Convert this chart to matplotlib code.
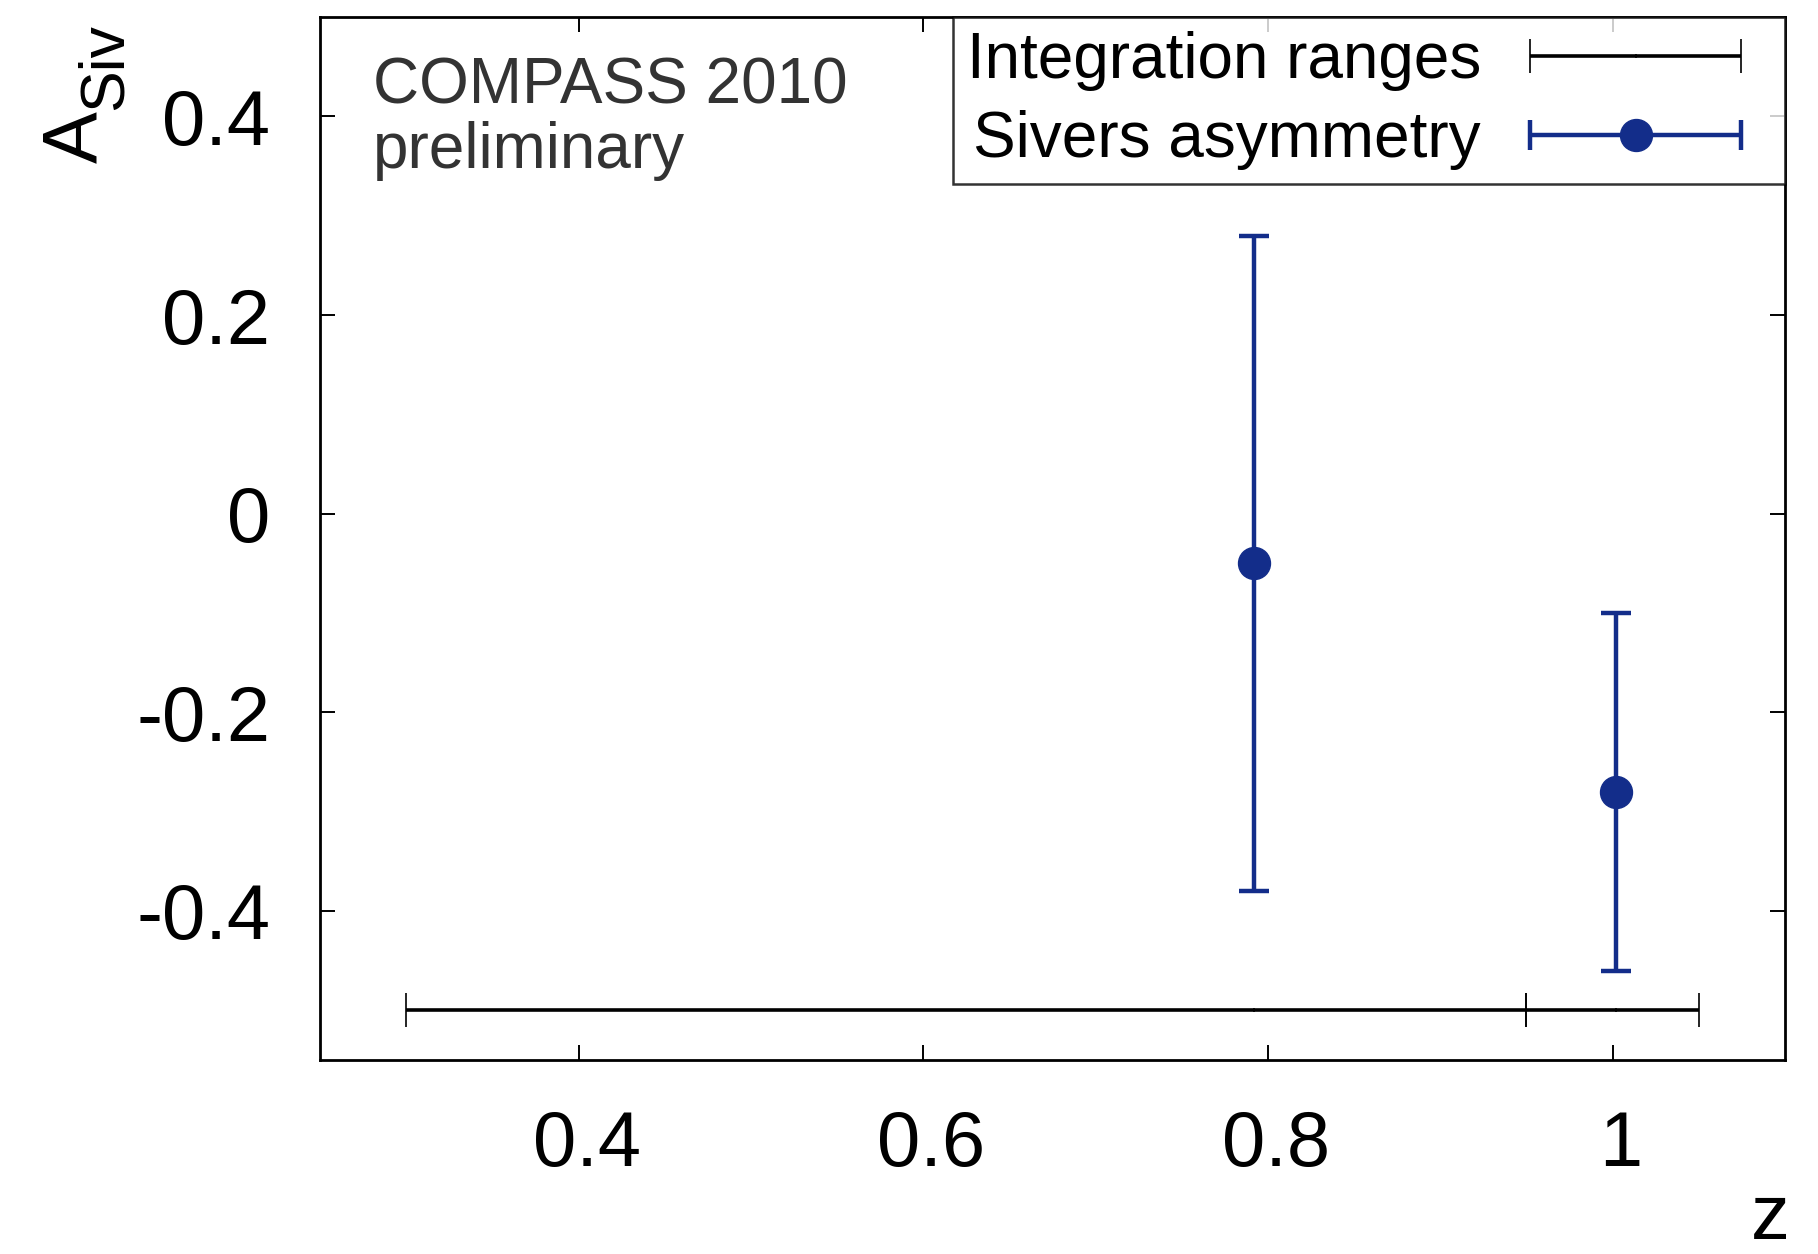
import matplotlib
matplotlib.use("Agg")
import numpy as np
import matplotlib.pyplot as plt
from matplotlib.container import ErrorbarContainer
from matplotlib.legend_handler import HandlerErrorbar
from matplotlib.transforms import ScaledTranslation

# Sivers asymmetry vs z
z_vals = [0.792, 1.002]
asym = [-0.05, -0.28]
asym_err = [0.33, 0.18]

# Integration ranges in z (drawn at A = -0.5)
range_lo = [0.30, 0.95]
range_hi = [0.95, 1.05]
range_level = -0.5

xticks = [0.4, 0.6, 0.8, 1.0]
xtick_labels = ["0.4", "0.6", "0.8", "1"]
yticks = [-0.4, -0.2, 0.0, 0.2, 0.4]
ytick_labels = ["-0.4", "-0.2", "0", "0.2", "0.4"]

BLUE = "#132d8a"
plt.rcParams["font.family"] = ["Liberation Sans", "DejaVu Sans"]

W, H = 1818, 1254
fig = plt.figure(figsize=(W / 100, H / 100), dpi=100)
ax = fig.add_axes([320 / W, 1 - 1060 / H, 1465 / W, 1043 / H])

range_style = dict(fmt="|", color="black", ms=3, mew=1.2, elinewidth=2.6,
                   capsize=12, capthick=2.6)
point_style = dict(fmt="o", color=BLUE, ms=23, mec=BLUE, elinewidth=3.2,
                   capsize=11, capthick=3.2)

# integration ranges as horizontal error bars
xerr_lo = [c - lo for c, lo in zip(z_vals, range_lo)]
xerr_hi = [hi - c for c, hi in zip(z_vals, range_hi)]
ax.errorbar(z_vals, [range_level] * len(z_vals), xerr=[xerr_lo, xerr_hi],
            **range_style)

# asymmetry points
ax.errorbar(z_vals, asym, yerr=asym_err, **point_style)

# legend keys: horizontal bars for both entries
key_ranges = ax.errorbar([np.nan], [np.nan], xerr=[1.0], **range_style)
key_points = ax.errorbar([np.nan], [np.nan], xerr=[1.0], **point_style)

ax.set_xlim(0.25, 1.1)
ax.set_ylim(-0.55, 0.5)
ax.set_xticks(xticks)
ax.set_xticklabels(xtick_labels)
ax.set_yticks(yticks)
ax.set_yticklabels(ytick_labels)

for s in ax.spines.values():
    s.set_linewidth(2.0)
ax.tick_params(axis="both", which="major", direction="in", length=11,
               width=1.4, top=True, right=True, labelsize=56)
ax.tick_params(axis="y", pad=36)
ax.tick_params(axis="x", pad=35)
shift = ScaledTranslation(8 / 100, 0, fig.dpi_scale_trans)
for lab in ax.get_xticklabels():
    lab.set_transform(lab.get_transform() + shift)

# axis titles
fig.text(97 / W, 1 - 163 / H, "A", fontsize=56, rotation=90,
         rotation_mode="anchor", ha="left", va="baseline")
fig.text(122 / W, 1 - 110 / H, "Siv", fontsize=45, rotation=90,
         rotation_mode="anchor", ha="left", va="baseline")
fig.text(1790 / W, 1 - 1239 / H, "z", fontsize=56, ha="right", va="baseline")

# experiment tag
ax.text(0.036, 0.9166, "COMPASS 2010", transform=ax.transAxes,
        fontsize=46, color="#333333", ha="left", va="baseline")
ax.text(0.036, 0.855, "preliminary", transform=ax.transAxes,
        fontsize=46, color="#333333", ha="left", va="baseline")

leg = ax.legend([key_ranges, key_points],
                ["Integration ranges", "Sivers asymmetry"],
                handler_map={ErrorbarContainer: HandlerErrorbar(xerr_size=1.65)},
                loc="upper right", fontsize=46, markerfirst=False,
                frameon=True, fancybox=False, borderaxespad=0,
                borderpad=0.22, handlelength=4.23, handletextpad=0.31,
                labelspacing=0.3)
leg.get_frame().set_edgecolor("black")
leg.get_frame().set_linewidth(1.8)

fig.savefig("out.png", dpi=100)
